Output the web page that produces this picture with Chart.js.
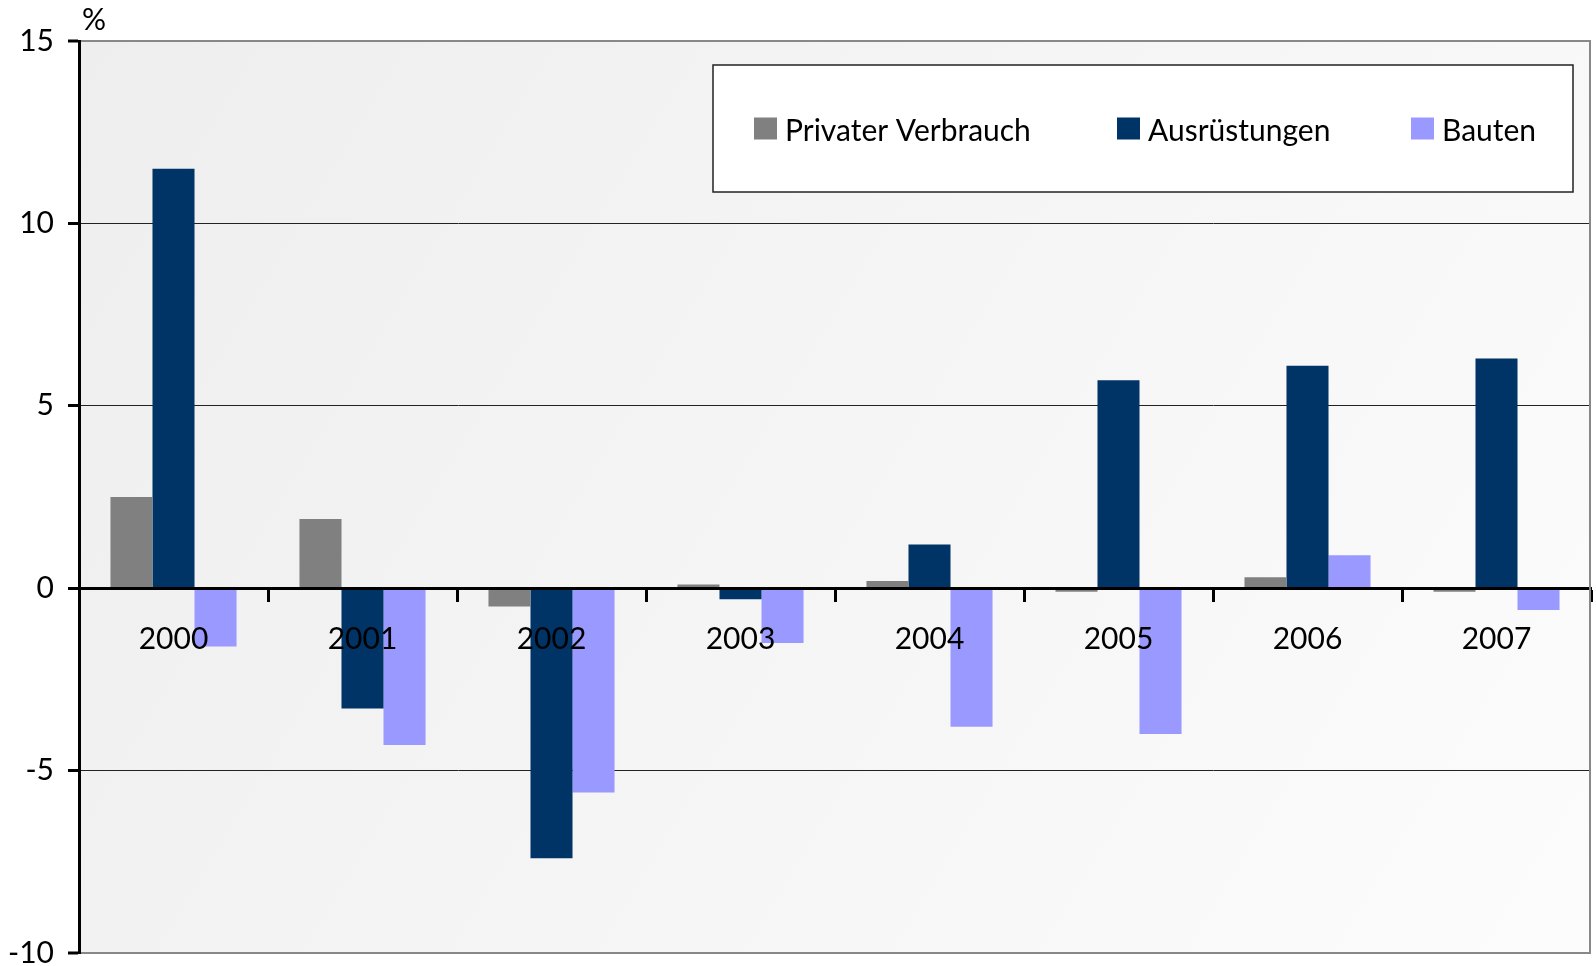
<!DOCTYPE html>
<html>
<head>
<meta charset="utf-8">
<title>Privater Verbrauch, Ausrüstungen, Bauten</title>
<script src="https://cdn.jsdelivr.net/npm/chart.js@4.4.0/dist/chart.umd.min.js"></script>
<style>
   html, body { margin: 0; padding: 0; background: #fff; }
   #wrap { width: 1596px; height: 966px; }
</style>
</head>
<body>
<div id="wrap"><canvas id="chart"></canvas></div>
<script>
const years = ['2000', '2001', '2002', '2003', '2004', '2005', '2006', '2007'];
const privaterVerbrauch = [2.5, 1.9, -0.5, 0.1, 0.2, -0.1, 0.3, -0.1];
const ausruestungen = [11.5, -3.3, -7.4, -0.3, 1.2, 5.7, 6.1, 6.3];
const bauten = [-1.6, -4.3, -5.6, -1.5, -3.8, -4.0, 0.9, -0.6];
const seriesNames = ['Privater Verbrauch', 'Ausrüstungen', 'Bauten'];
const seriesColors = ['#808080', '#003366', '#9999ff'];
const yMin = -10;
const yMax = 15;
const yStep = 5;
const unitLabel = '%';

const FONT = 'Lato, "Open Sans", sans-serif';

// background gradient, right border, unit label and boxed legend
const decorations = {
   id: 'decorations',
   beforeDraw(chart) {
      const { ctx, chartArea: a } = chart;
      const g = ctx.createLinearGradient(a.left, a.top, a.right, a.bottom);
      g.addColorStop(0, '#eeeeee');
      g.addColorStop(1, '#fcfcfc');
      ctx.save();
      ctx.fillStyle = g;
      ctx.fillRect(a.left, a.top, a.right - a.left, a.bottom - a.top);
      ctx.restore();
   },
   afterDraw(chart) {
      const { ctx, chartArea: a } = chart;
      ctx.save();

      ctx.strokeStyle = '#888';
      ctx.lineWidth = 2;
      ctx.beginPath();
      ctx.moveTo(a.right - 1, a.top);
      ctx.lineTo(a.right - 1, a.bottom + 1);
      ctx.stroke();

      ctx.fillStyle = '#000';
      ctx.font = '30px ' + FONT;
      ctx.textBaseline = 'alphabetic';
      ctx.textAlign = 'left';
      ctx.fillText(unitLabel, 82, 30);

      // legend box
      const box = { left: 713, top: 65, right: 1573, bottom: 192 };
      const itemX = [754, 1117, 1411];
      ctx.fillStyle = '#fff';
      ctx.fillRect(box.left, box.top, box.right - box.left, box.bottom - box.top);
      ctx.strokeStyle = '#222';
      ctx.lineWidth = 1.5;
      ctx.strokeRect(box.left, box.top, box.right - box.left, box.bottom - box.top);

      const midY = (box.top + box.bottom) / 2;
      ctx.textBaseline = 'middle';
      chart.data.datasets.forEach((ds, i) => {
         ctx.fillStyle = ds.backgroundColor;
         ctx.fillRect(itemX[i], midY - 11, 23, 22);
         ctx.fillStyle = '#000';
         ctx.fillText(ds.label, itemX[i] + 31, midY + 3);
      });
      ctx.restore();
   }
};

const ctx = document.getElementById('chart').getContext('2d');
const chart = new Chart(ctx, {
   type: 'bar',
   data: {
      labels: years,
      datasets: [privaterVerbrauch, ausruestungen, bauten].map((values, i) => ({
         label: seriesNames[i],
         data: values,
         backgroundColor: seriesColors[i],
         borderWidth: 0
      }))
   },
   options: {
      responsive: true,
      maintainAspectRatio: false,
      animation: false,
      events: [],
      layout: { padding: { top: 41, right: 5, bottom: 13, left: 0 } },
      datasets: {
         bar: { categoryPercentage: 0.667, barPercentage: 1.0 }
      },
      plugins: {
         legend: { display: false },
         tooltip: { enabled: false }
      },
      scales: {
         x: {
            type: 'category',
            position: { y: 0 },
            grid: {
               z: 1,
               offset: true,
               drawOnChartArea: false,
               drawTicks: true,
               tickLength: 12,
               tickWidth: 3,
               tickColor: '#000'
            },
            border: { display: true, color: '#000', width: 3, z: 1 },
            ticks: {
               z: 1,
               color: '#000',
               padding: 21,
               maxRotation: 0,
               font: { family: FONT, size: 30 }
            }
         },
         y: {
            min: yMin,
            max: yMax,
            afterFit(scale) {
               scale.width = 79;
               scale.paddingTop = 0;
               scale.paddingBottom = 0;
            },
            grid: {
               color: (c) => {
                  const v = c.tick ? c.tick.value : null;
                  if (v === yMax || v === yMin) return '#888';
                  if (v === 0) return 'rgba(0,0,0,0)';
                  return '#222';
               },
               lineWidth: (c) => (c.tick && (c.tick.value === yMax || c.tick.value === yMin)) ? 2 : 1,
               tickColor: '#000',
               tickWidth: 3,
               tickLength: 11
            },
            border: { display: true, color: '#000', width: 3 },
            ticks: {
               stepSize: yStep,
               color: '#000',
               padding: 14,
               font: { family: FONT, size: 30 }
            }
         }
      }
   },
   plugins: [decorations]
});
</script>
</body>
</html>
